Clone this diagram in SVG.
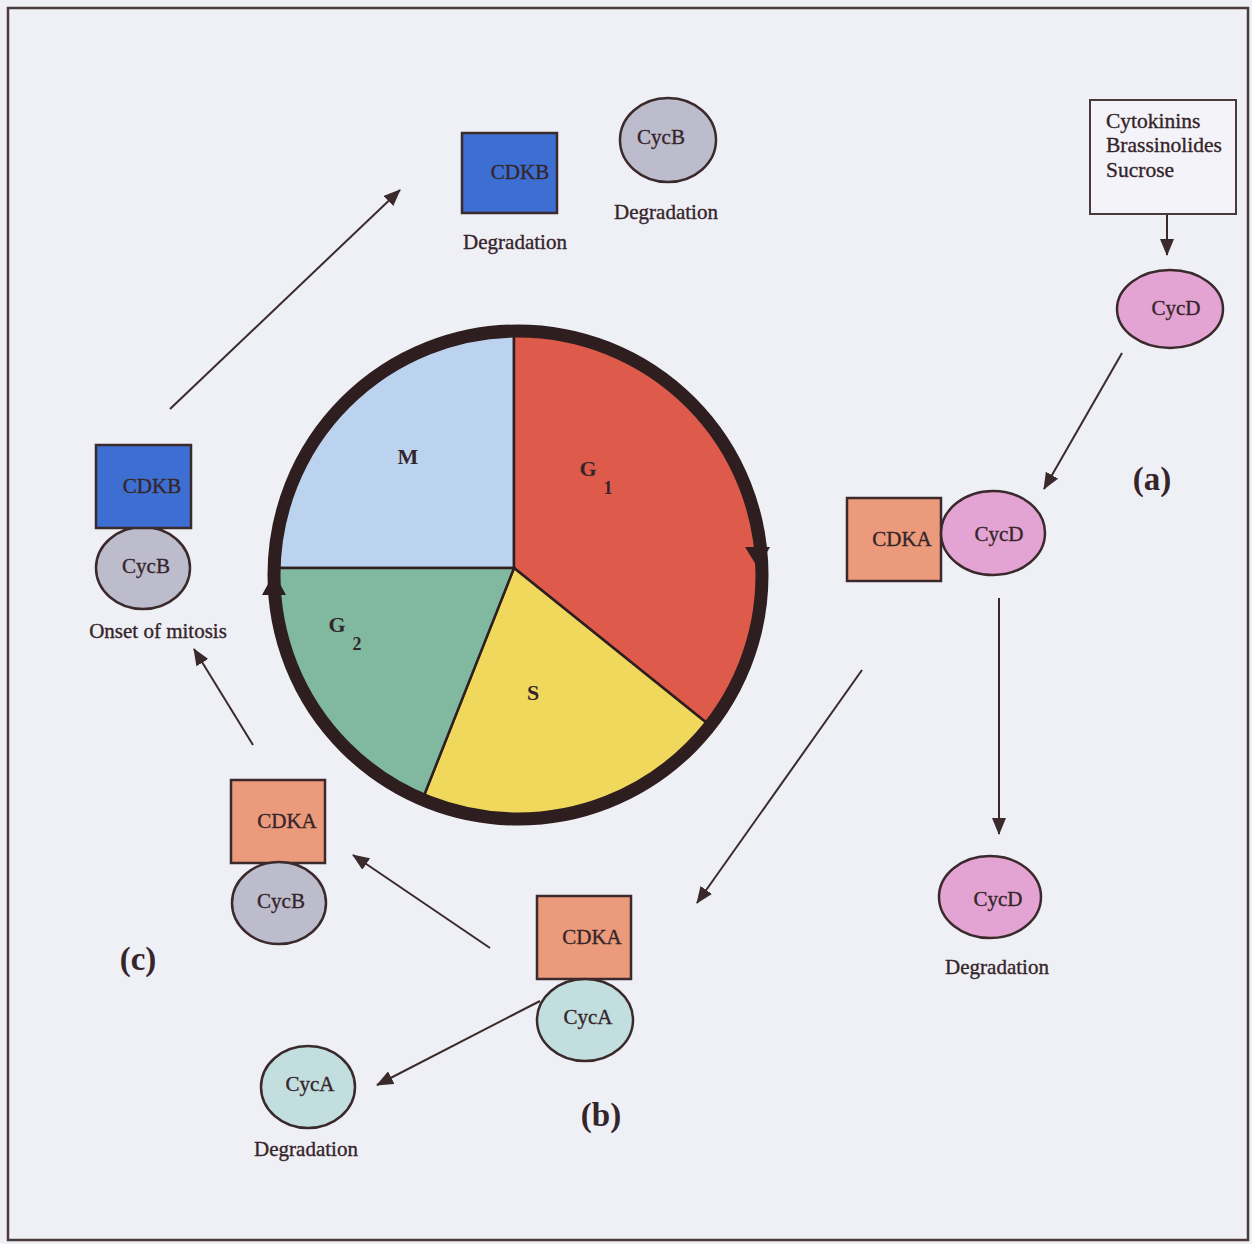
<svg xmlns="http://www.w3.org/2000/svg" width="1252" height="1244" viewBox="0 0 1252 1244">
  <style>
    .lbl { font-family: "Liberation Serif", "Times New Roman", serif; font-size: 21px; fill: #35252a; stroke: #35252a; stroke-width: 0.35; text-anchor: middle; }
    .lft { text-anchor: start; font-size: 21.5px; }
    .ph { font-family: "Liberation Serif", "Times New Roman", serif; font-weight: bold; font-size: 22px; fill: #35252a; text-anchor: middle; }
    .sub { font-size: 18px; }
    .tag { font-family: "Liberation Serif", "Times New Roman", serif; font-weight: bold; font-size: 33px; fill: #35252a; text-anchor: middle; }
    .edge { stroke: #3a2a2c; stroke-width: 2; fill: none; marker-end: url(#head); }
    .cdkb { fill: #3d6fd2; stroke: #3a2a2c; stroke-width: 2.5; }
    .cdka { fill: #ec9a7c; stroke: #3a2a2c; stroke-width: 2.5; }
    .cycb { fill: #bdbccd; stroke: #3a2a2c; stroke-width: 2.5; }
    .cycd { fill: #e3a3d3; stroke: #3a2a2c; stroke-width: 2.5; }
    .cyca { fill: #c3dede; stroke: #3a2a2c; stroke-width: 2.5; }
    .wedge { stroke: #2e1e20; stroke-width: 2.5; }
  </style>
  <defs>
    <marker id="head" markerUnits="userSpaceOnUse" markerWidth="18" markerHeight="14" refX="16" refY="7" orient="auto">
      <path d="M0,0 L17,7 L0,14 Z" fill="#3a2a2c"/>
    </marker>
  </defs>

  <!-- page background and frame -->
  <rect x="0" y="0" width="1252" height="1244" fill="#efeff6"/>
  <rect x="8" y="8" width="1240" height="1232" fill="none" stroke="#4a3a3c" stroke-width="2.5"/>

  <!-- cell cycle wheel: four phase sectors under a thick ring -->
  <g id="cell-cycle">
    <path class="wedge" fill="#bcd3ef" d="M514,568 L514,333 A242,242 0 0 0 276,568 Z"/>
    <path class="wedge" fill="#de5b4b" d="M514,568 L514,333 A242,242 0 0 1 708,724 Z"/>
    <path class="wedge" fill="#efd85b" d="M514,568 L708,724 A242,242 0 0 1 423,798 Z"/>
    <path class="wedge" fill="#80b9a0" d="M514,568 L423,798 A242,242 0 0 1 276,568 Z"/>
    <circle cx="518" cy="575" r="244" fill="none" stroke="#2e1e20" stroke-width="13"/>
    <path d="M745,547 L770,547 L758,568 Z" fill="#2e1e20"/>
    <path d="M262,595 L286,595 L274,573 Z" fill="#2e1e20"/>
    <text class="ph" x="408" y="464">M</text>
    <text class="ph" x="588" y="476">G</text>
    <text class="ph sub" x="608" y="494">1</text>
    <text class="ph" x="337" y="632">G</text>
    <text class="ph sub" x="357" y="650">2</text>
    <text class="ph" x="533" y="700">S</text>
  </g>

  <!-- connectors -->
  <g id="connectors">
    <line class="edge" x1="170" y1="409" x2="400" y2="190"/>
    <line class="edge" x1="1167" y1="215" x2="1167" y2="255"/>
    <line class="edge" x1="1122" y1="353" x2="1044" y2="489"/>
    <line class="edge" x1="999" y1="598" x2="999" y2="834"/>
    <line class="edge" x1="862" y1="670" x2="697" y2="903"/>
    <line class="edge" x1="490" y1="948" x2="353" y2="855"/>
    <line class="edge" x1="540" y1="1001" x2="377" y2="1085"/>
    <line class="edge" x1="253" y1="745" x2="194" y2="649"/>
  </g>

  <!-- CDKB / CycB degradation (top) -->
  <g id="cdkb-degradation">
    <rect class="cdkb" x="462" y="133" width="95" height="80"/>
    <text class="lbl" x="520" y="179">CDKB</text>
    <text class="lbl" x="515" y="249">Degradation</text>
  </g>
  <g id="cycb-degradation">
    <ellipse class="cycb" cx="668" cy="140" rx="48" ry="42"/>
    <text class="lbl" x="661" y="144">CycB</text>
    <text class="lbl" x="666" y="219">Degradation</text>
  </g>

  <!-- external signals -->
  <g id="signals">
    <rect x="1090" y="100" width="146" height="114" fill="#f3f3f9" stroke="#4a3a3c" stroke-width="2"/>
    <text class="lbl lft" x="1106" y="128">Cytokinins</text>
    <text class="lbl lft" x="1106" y="152">Brassinolides</text>
    <text class="lbl lft" x="1106" y="177">Sucrose</text>
  </g>
  <g id="cycd-induced">
    <ellipse class="cycd" cx="1170" cy="309" rx="53" ry="39"/>
    <text class="lbl" x="1176" y="315">CycD</text>
  </g>

  <!-- (a) CDKA/CycD complex -->
  <g id="complex-a">
    <rect class="cdka" x="847" y="498" width="94" height="83"/>
    <text class="lbl" x="902" y="546">CDKA</text>
    <ellipse class="cycd" cx="993" cy="533" rx="52" ry="42"/>
    <text class="lbl" x="999" y="541">CycD</text>
    <text class="tag" x="1152" y="490">(a)</text>
  </g>
  <g id="cycd-degradation">
    <ellipse class="cycd" cx="990" cy="897" rx="51" ry="41"/>
    <text class="lbl" x="998" y="906">CycD</text>
    <text class="lbl" x="997" y="974">Degradation</text>
  </g>

  <!-- (b) CDKA/CycA complex -->
  <g id="complex-b">
    <rect class="cdka" x="537" y="896" width="94" height="83"/>
    <text class="lbl" x="592" y="944">CDKA</text>
    <ellipse class="cyca" cx="585" cy="1020" rx="48" ry="41"/>
    <text class="lbl" x="588" y="1024">CycA</text>
    <text class="tag" x="601" y="1126">(b)</text>
  </g>
  <g id="cyca-degradation">
    <ellipse class="cyca" cx="308" cy="1087" rx="47" ry="41"/>
    <text class="lbl" x="310" y="1091">CycA</text>
    <text class="lbl" x="306" y="1156">Degradation</text>
  </g>

  <!-- (c) CDKA/CycB complex -->
  <g id="complex-c">
    <rect class="cdka" x="231" y="780" width="94" height="83"/>
    <text class="lbl" x="287" y="828">CDKA</text>
    <ellipse class="cycb" cx="279" cy="903" rx="47" ry="41"/>
    <text class="lbl" x="281" y="908">CycB</text>
    <text class="tag" x="138" y="970">(c)</text>
  </g>

  <!-- CDKB/CycB complex at onset of mitosis -->
  <g id="complex-mitosis">
    <ellipse class="cycb" cx="143" cy="568" rx="47" ry="41"/>
    <text class="lbl" x="146" y="573">CycB</text>
    <rect class="cdkb" x="96" y="445" width="95" height="83"/>
    <text class="lbl" x="152" y="493">CDKB</text>
    <text class="lbl" x="158" y="638">Onset of mitosis</text>
  </g>
</svg>
